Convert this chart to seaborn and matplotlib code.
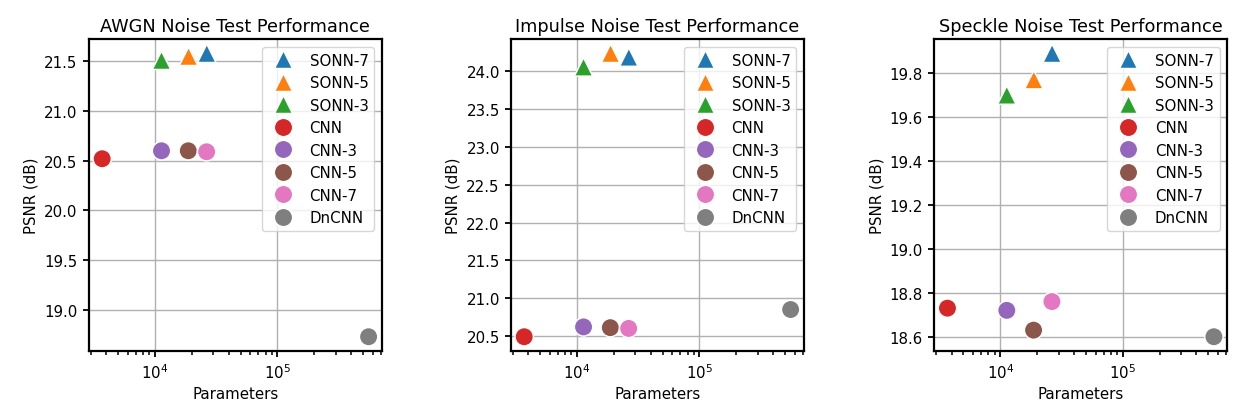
import matplotlib
matplotlib.use("Agg")
import matplotlib.pyplot as plt
import seaborn as sns
import pandas as pd

models = ["SONN-7", "SONN-5", "SONN-3", "CNN", "CNN-3", "CNN-5", "CNN-7", "DnCNN"]
params = [26500, 18800, 11300, 3700, 11300, 18700, 26400, 556000]
awgn_psnr = [21.58, 21.55, 21.51, 20.52, 20.60, 20.60, 20.59, 18.73]
impulse_psnr = [24.19, 24.24, 24.06, 20.49, 20.62, 20.61, 20.60, 20.85]
speckle_psnr = [19.89, 19.77, 19.70, 18.73, 18.72, 18.63, 18.76, 18.60]
titles = ["AWGN Noise Test Performance", "Impulse Noise Test Performance",
          "Speckle Noise Test Performance"]

palette = dict(zip(models, sns.color_palette("tab10", len(models))))
markers = {m: ("^" if m.startswith("SONN") else "o") for m in models}

plt.rcParams["font.family"] = ["DejaVu Sans"]
plt.rcParams["font.size"] = 10.8
plt.rcParams["axes.linewidth"] = 1.6
plt.rcParams["xtick.major.width"] = 1.3
plt.rcParams["ytick.major.width"] = 1.3
plt.rcParams["xtick.minor.width"] = 1.1
plt.rcParams["xtick.minor.size"] = 3.0
plt.rcParams["xtick.major.size"] = 4.5
plt.rcParams["ytick.major.size"] = 4.5
plt.rcParams["grid.linewidth"] = 1.0
plt.rcParams["grid.color"] = "#b0b0b0"

fig = plt.figure(figsize=(12.34, 4.14), dpi=100)
lefts = [0.072, 0.414, 0.757]
for left, title, vals in zip(lefts, titles, [awgn_psnr, impulse_psnr, speckle_psnr]):
    ax = fig.add_axes([left, 0.150, 0.2375, 0.753])
    df = pd.DataFrame({"Model": models, "Parameters": params, "PSNR": vals})
    sns.scatterplot(data=df, x="Parameters", y="PSNR", hue="Model", style="Model",
                    hue_order=models, style_order=models, palette=palette,
                    markers=markers, s=175, ax=ax, zorder=3)
    ax.set_xscale("log")
    ax.grid(True, zorder=0)
    ax.set_axisbelow(True)
    ax.set_title(title, fontsize=12.8)
    ax.set_xlabel("Parameters")
    ax.set_ylabel("PSNR (dB)")
    ax.legend(loc="upper right")

fig.savefig("out.png", dpi=100)
